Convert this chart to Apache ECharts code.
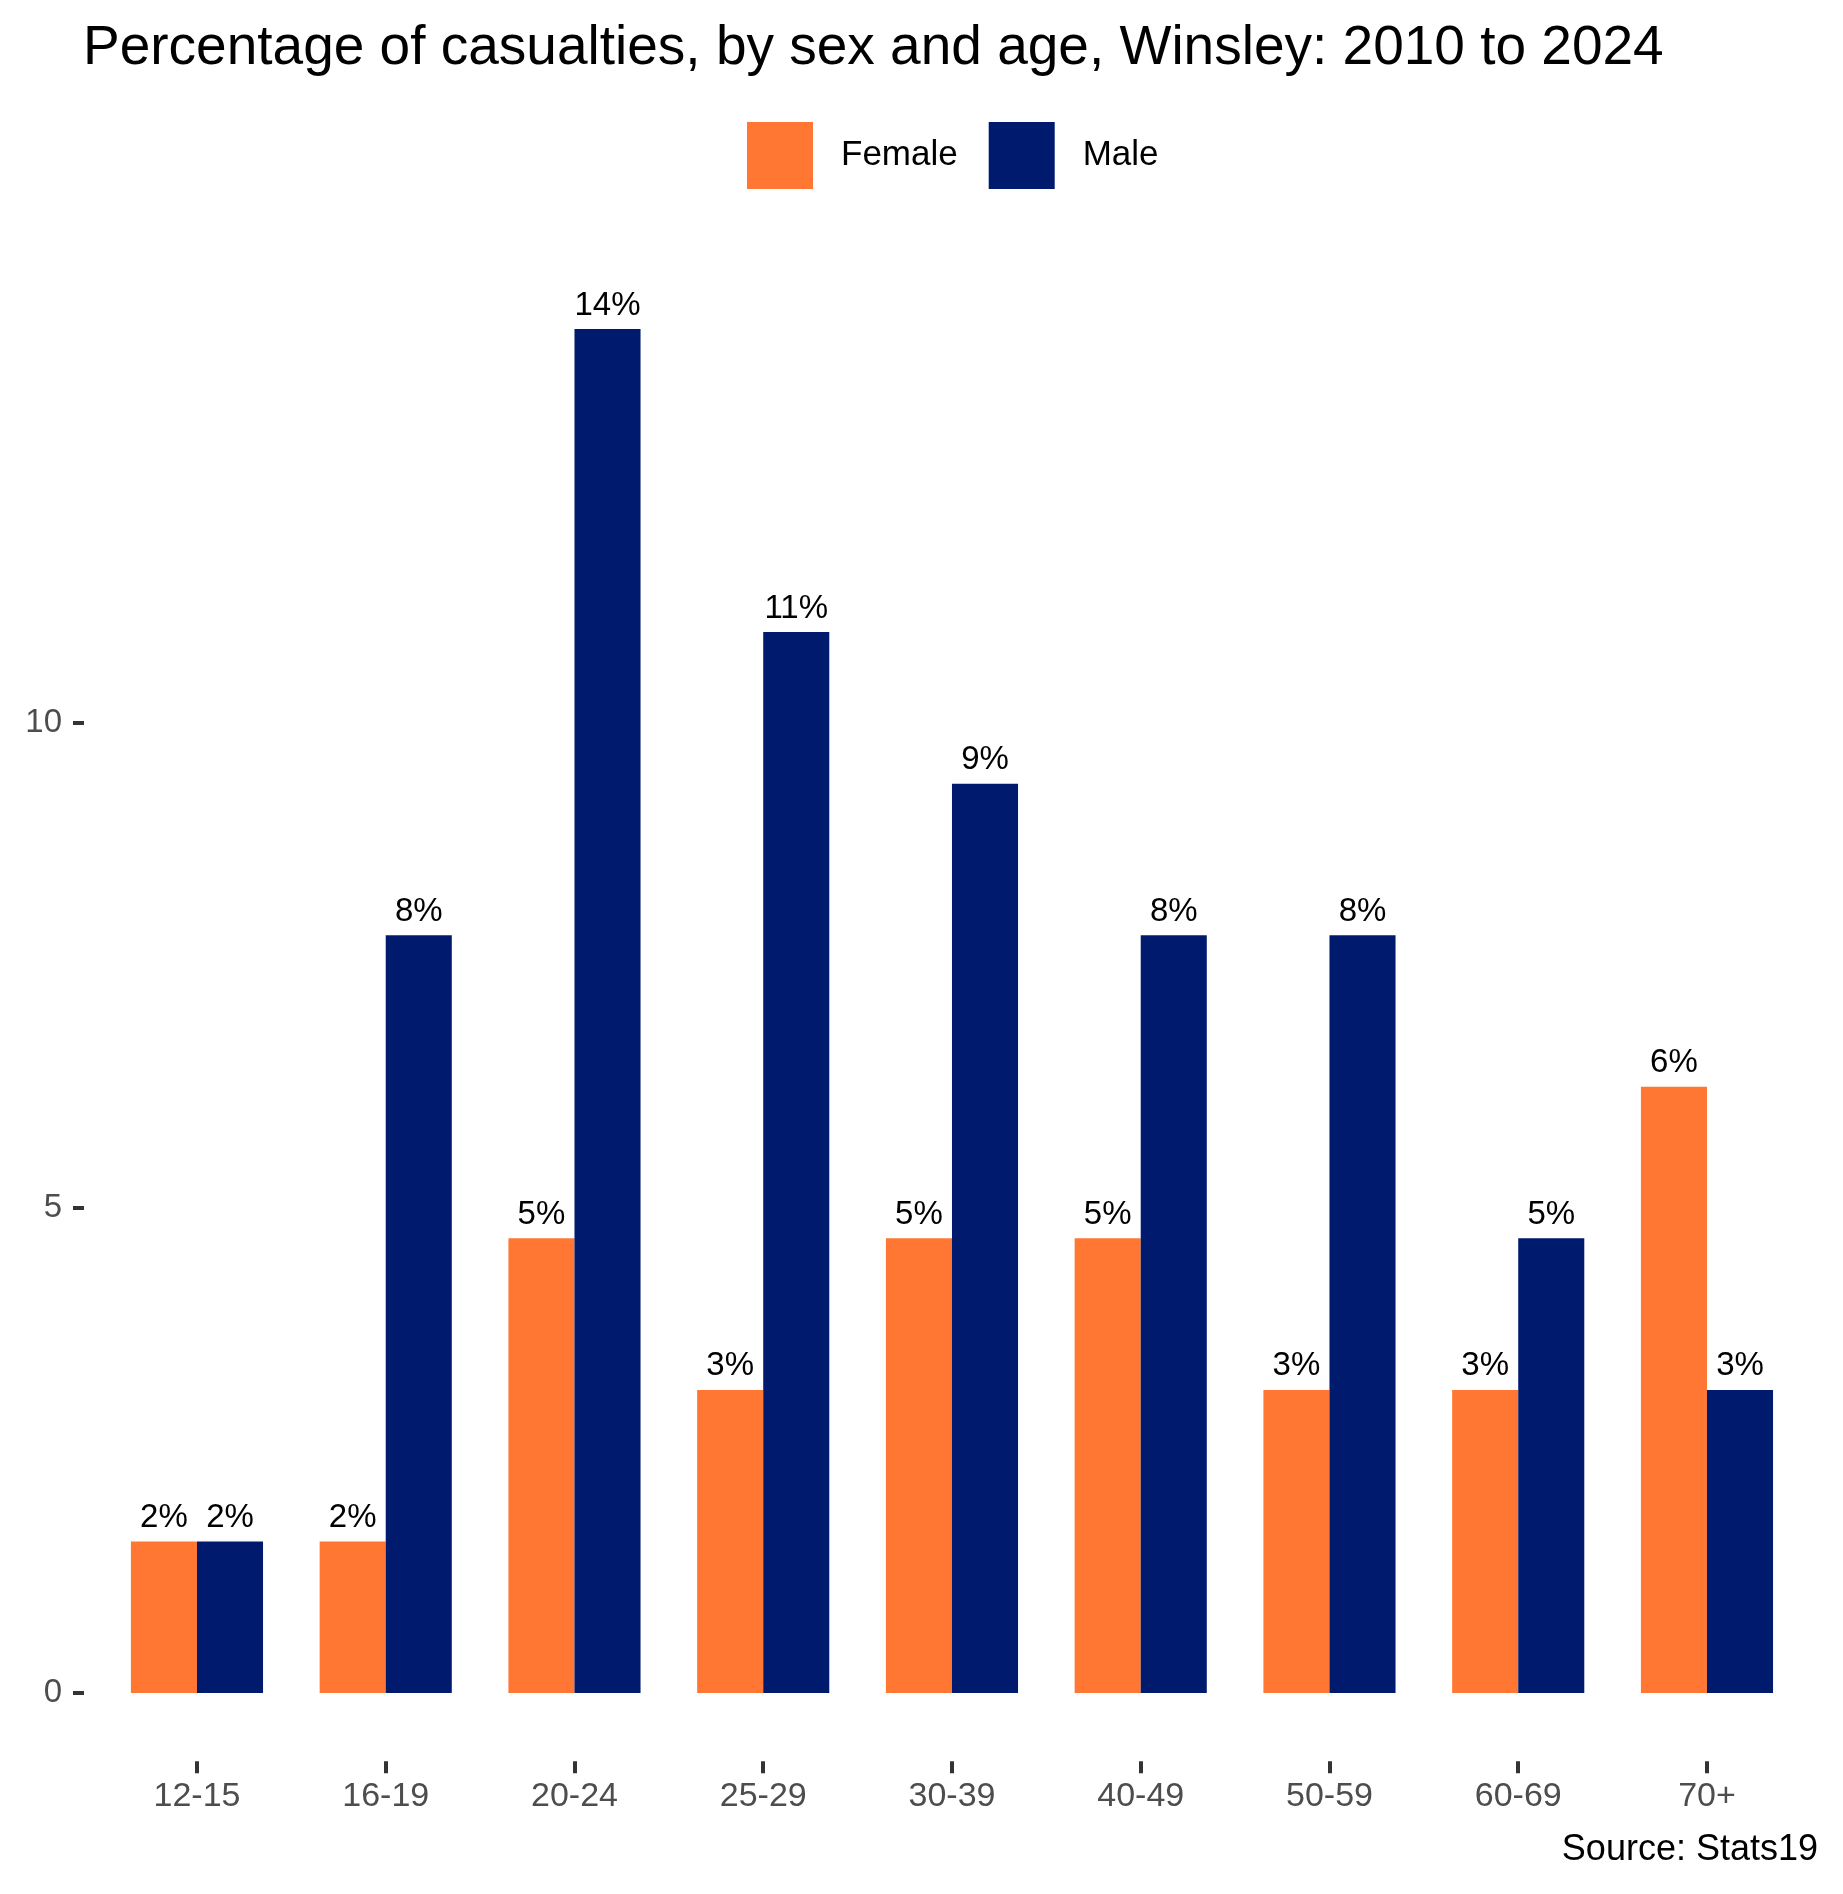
<!DOCTYPE html>
<html>
<head>
<meta charset="utf-8">
<script src="https://cdn.jsdelivr.net/npm/echarts@6/dist/echarts.min.js"></script>
<style>
html,body{margin:0;padding:0;background:#fff;}
#chart{width:1843px;height:1894px;}
</style>
</head>
<body>
<div id="chart"></div>
<script>
const categories = ['12-15','16-19','20-24','25-29','30-39','40-49','50-59','60-69','70+'];
const femaleValues = [1.5625, 1.5625, 4.6875, 3.125, 4.6875, 4.6875, 3.125, 3.125, 6.25];
const maleValues = [1.5625, 7.8125, 14.0625, 10.9375, 9.375, 7.8125, 7.8125, 4.6875, 3.125];
const yTickValues = [0, 5, 10];
const seriesNames = ['Female', 'Male'];
const colors = ['#FF7733', '#001A6E'];

const FONT = 'Liberation Sans, Arial, sans-serif';
const chart = echarts.init(document.getElementById('chart'));

const labelCfg = {
  show: true,
  position: 'top',
  distance: 7,
  color: '#000',
  fontFamily: FONT,
  fontSize: 33,
  formatter: p => Math.round(p.value) + '%'
};

chart.setOption({
  animation: false,
  backgroundColor: '#fff',
  title: {
    text: 'Percentage of casualties, by sex and age, Winsley: 2010 to 2024',
    left: 78,
    top: 16,
    textStyle: {fontFamily: FONT, fontSize: 55, fontWeight: 'normal', color: '#000'}
  },
  legend: {
    data: seriesNames,
    left: 742,
    top: 117,
    itemWidth: 66,
    itemHeight: 67,
    itemGap: 31,
    icon: 'rect',
    textStyle: {fontFamily: FONT, fontSize: 35, color: '#000', padding: [0, 0, 0, 23]}
  },
  graphic: [{
    type: 'text',
    right: 25,
    top: 1832,
    style: {text: 'Source: Stats19', font: '36px ' + FONT, fill: '#000'}
  }],
  grid: {left: 102.6, width: 1698.75, top: 238, height: 1523.2},
  xAxis: {
    type: 'category',
    data: categories,
    axisLine: {show: false, onZero: false},
    axisTick: {show: true, alignWithLabel: true, length: 12, lineStyle: {color: '#333', width: 4}},
    axisLabel: {margin: 18, fontFamily: FONT, fontSize: 34, color: '#4d4d4d'},
    splitLine: {show: false}
  },
  yAxis: {
    type: 'value',
    min: -0.703,
    max: 15,
    offset: 18.6,
    axisLine: {show: false},
    axisTick: {show: true, length: 11, customValues: yTickValues, lineStyle: {color: '#333', width: 4}},
    axisLabel: {margin: 22, fontFamily: FONT, fontSize: 33, color: '#4d4d4d', customValues: yTickValues},
    splitLine: {show: false}
  },
  series: [
    {name: seriesNames[0], type: 'bar', data: femaleValues, barGap: '0%', barCategoryGap: '30%',
     itemStyle: {color: colors[0]}, label: labelCfg},
    {name: seriesNames[1], type: 'bar', data: maleValues, barGap: '0%', barCategoryGap: '30%',
     itemStyle: {color: colors[1]}, label: labelCfg}
  ]
});
</script>
</body>
</html>
